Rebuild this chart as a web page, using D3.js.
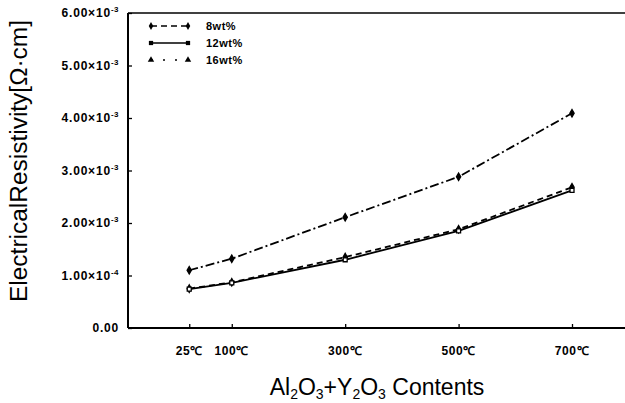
<!DOCTYPE html>
<html><head><meta charset="utf-8">
<script src="https://cdn.jsdelivr.net/npm/d3@7"></script>
<style>body{margin:0;background:#fff}svg{display:block}</style>
</head><body>
<svg id="c" width="625" height="403"></svg>
<script>
const temps = [25, 100, 300, 500, 700];
const xTickLabels = ["25\u2103", "100\u2103", "300\u2103", "500\u2103", "700\u2103"];
const seriesNames = ["8wt%", "12wt%", "16wt%"];
const s8 = [0.75, 0.87, 1.35, 1.88, 2.68];
const s12 = [0.74, 0.86, 1.30, 1.85, 2.62];
const s16 = [1.10, 1.32, 2.11, 2.88, 4.09];
const yTicks = [0, 1, 2, 3, 4, 5, 6];
const yTickMain = ["0.00", "1.00\u00d710", "2.00\u00d710", "3.00\u00d710", "4.00\u00d710", "5.00\u00d710", "6.00\u00d710"];
const yTickExp = ["", "-4", "-3", "-3", "-3", "-3", "-3"];

const svg = d3.select("#c");
const L = 128, R = 625, T = 13, B = 328;
const x = d3.scaleLinear().domain([-83, 700]).range([L, 572]);
const y = d3.scaleLinear().domain([0, 6]).range([B, T]);
const font = "'Liberation Sans', Arial, sans-serif";

// axes
const yAx = svg.append("g").attr("transform", `translate(${L},0)`)
  .call(d3.axisRight(y).tickValues(yTicks).tickSize(4).tickFormat(""));
yAx.select(".domain").remove();
const xAx = svg.append("g").attr("transform", `translate(0,${B})`)
  .call(d3.axisTop(x).tickValues(temps).tickSize(4).tickFormat(""));
xAx.select(".domain").remove();
svg.selectAll(".tick line").attr("stroke", "#000").attr("stroke-width", 1.3);

svg.append("line").attr("x1", L).attr("x2", R).attr("y1", B).attr("y2", B).attr("stroke", "#000").attr("stroke-width", 2);
svg.append("line").attr("x1", L).attr("x2", L).attr("y1", T).attr("y2", B).attr("stroke", "#000").attr("stroke-width", 2);
svg.append("line").attr("x1", L).attr("x2", R).attr("y1", T).attr("y2", T).attr("stroke", "#000").attr("stroke-width", 1.5);

// tick labels
const yl = svg.selectAll(".ylab").data(yTicks).enter().append("text")
  .attr("x", 119).attr("y", d => y(d) + 4).attr("text-anchor", "end")
  .attr("font-family", font).attr("font-size", 12).attr("font-weight", "bold")
  .attr("letter-spacing", 0.8);
yl.append("tspan").text((d, i) => yTickMain[i]);
yl.append("tspan").attr("font-size", 8).attr("dy", -5).attr("letter-spacing", 0.5).text((d, i) => yTickExp[i]);
svg.selectAll(".xlab").data(temps).enter().append("text")
  .attr("x", d => x(d)).attr("y", 355).attr("text-anchor", "middle")
  .attr("font-family", font).attr("font-size", 12).attr("font-weight", "bold")
  .attr("letter-spacing", 0.6)
  .text((d, i) => xTickLabels[i]);

// titles
svg.append("text").attr("transform", "translate(27,161) rotate(-90)").attr("text-anchor", "middle")
  .attr("font-family", font).attr("font-size", 23)
  .attr("textLength", 282).attr("lengthAdjust", "spacingAndGlyphs")
  .text("ElectricalResistivity[\u03a9\u00b7cm]");
const xt = svg.append("text").attr("x", 377).attr("y", 395).attr("text-anchor", "middle")
  .attr("font-family", font).attr("font-size", 23);
xt.append("tspan").text("Al");
xt.append("tspan").attr("font-size", 14).attr("dy", 4).text("2");
xt.append("tspan").attr("dy", -4).text("O");
xt.append("tspan").attr("font-size", 14).attr("dy", 4).text("3");
xt.append("tspan").attr("dy", -4).text("+Y");
xt.append("tspan").attr("font-size", 14).attr("dy", 4).text("2");
xt.append("tspan").attr("dy", -4).text("O");
xt.append("tspan").attr("font-size", 14).attr("dy", 4).text("3");
xt.append("tspan").attr("dy", -4).text(" Contents");

// series
const series = [
  {name: seriesNames[0], vals: s8, dash: "6,4", sym: d3.symbolDiamond, fill: "#000"},
  {name: seriesNames[1], vals: s12, dash: null, sym: d3.symbolSquare, fill: "#fff"},
  {name: seriesNames[2], vals: s16, dash: "9,3,2,3", sym: d3.symbolDiamond, fill: "#000"}
];
const line = d3.line().x((d, i) => x(temps[i])).y(d => y(d));
series.forEach(s => {
  svg.append("path").datum(s.vals).attr("d", line).attr("fill", "none")
    .attr("stroke", "#000").attr("stroke-width", 1.8).attr("stroke-dasharray", s.dash);
  svg.selectAll(null).data(s.vals).enter().append("path")
    .attr("transform", (d, i) => `translate(${x(temps[i])},${y(d)})`)
    .attr("d", d3.symbol().type(s.sym).size(16))
    .attr("fill", s.fill).attr("stroke", "#000").attr("stroke-width", 1.3);
});

// legend
const legSym = [d3.symbolDiamond, d3.symbolSquare, d3.symbolTriangle];
const lg = svg.append("g");
series.forEach((s, i) => {
  const yy = 26 + i * 17;
  lg.append("line").attr("x1", 151).attr("x2", 188).attr("y1", yy).attr("y2", yy)
    .attr("stroke", "#000").attr("stroke-width", 1.6).attr("stroke-dasharray", i === 2 ? "2,10" : s.dash);
  [151, 188].forEach(px => lg.append("path").attr("transform", `translate(${px},${yy})`)
    .attr("d", d3.symbol().type(legSym[i]).size(18)).attr("fill", "#000"));
  lg.append("text").attr("x", 206).attr("y", yy + 4).attr("font-family", font)
    .attr("font-size", 11).attr("font-weight", "bold").attr("letter-spacing", 0.5).text(s.name);
});
</script>
</body></html>
